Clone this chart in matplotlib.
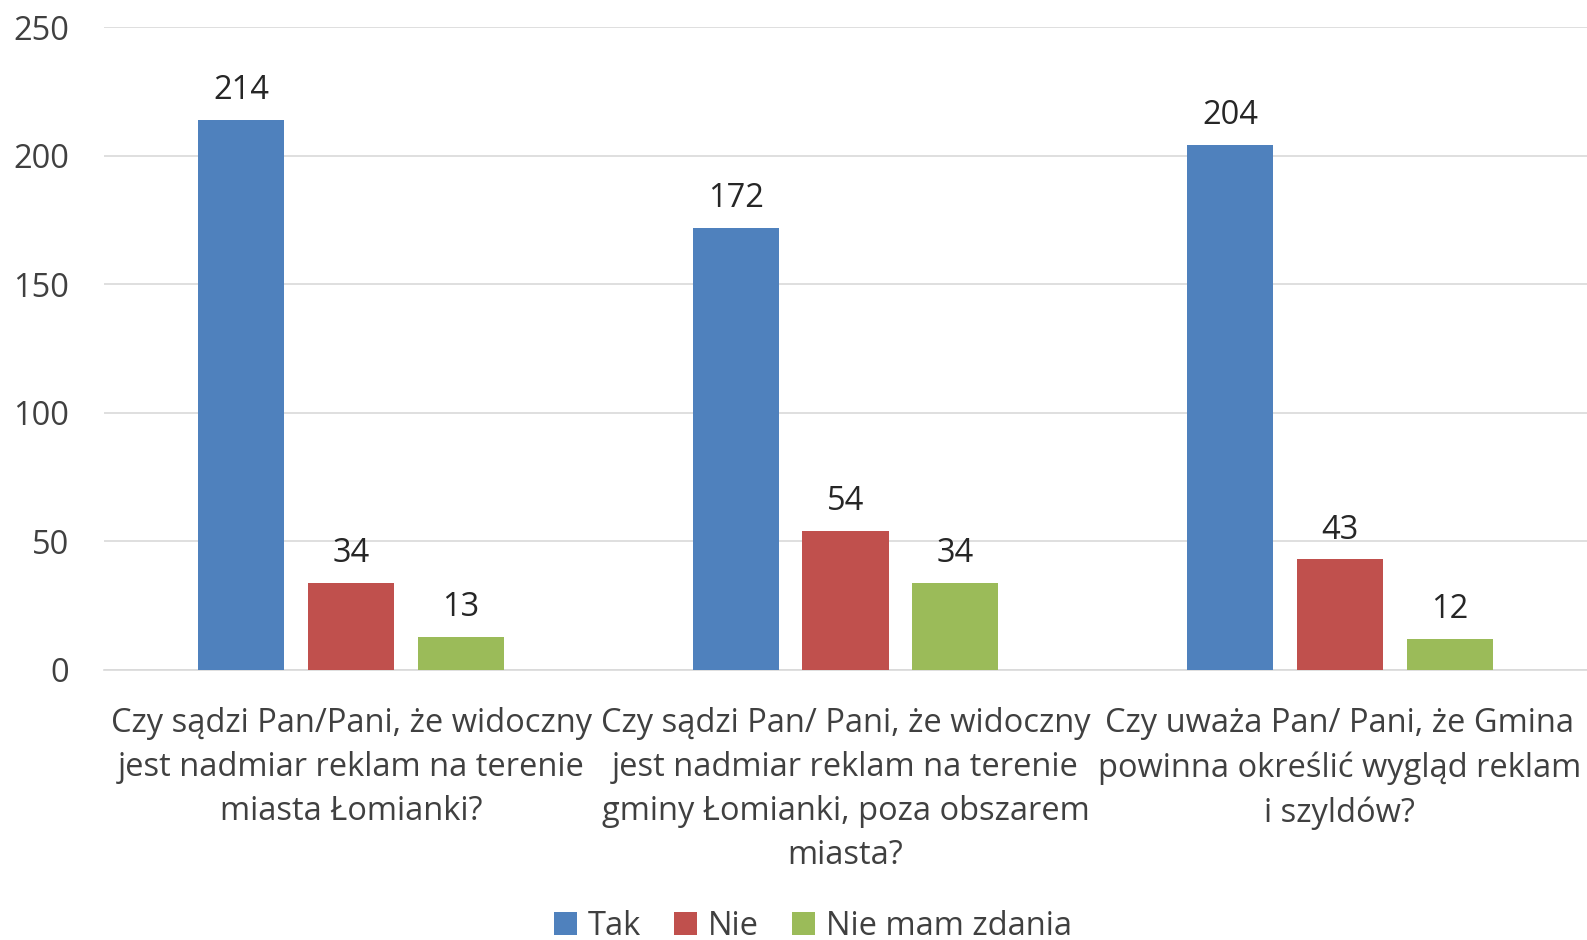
import numpy as np
import matplotlib
matplotlib.use('Agg')
import matplotlib.pyplot as plt

plt.rcParams['font.family'] = ['Open Sans', 'DejaVu Sans']

categories = [
    "Czy sądzi Pan/Pani, że widoczny\njest nadmiar reklam na terenie\nmiasta Łomianki?",
    "Czy sądzi Pan/ Pani, że widoczny\njest nadmiar reklam na terenie\ngminy Łomianki, poza obszarem\nmiasta?",
    "Czy uważa Pan/ Pani, że Gmina\npowinna określić wygląd reklam\ni szyldów?",
]
series_names = ["Tak", "Nie", "Nie mam zdania"]
tak = [214, 172, 204]
nie = [34, 54, 43]
brak = [13, 34, 12]
colors = ["#4F81BD", "#C0504D", "#9BBB59"]

FS = 23.5

fig = plt.figure(figsize=(15.87, 9.40), dpi=100)
ax = fig.add_axes([104 / 1587, 1 - 670 / 940, 1 - 104 / 1587, (670 - 27) / 940])

x = np.arange(len(categories))
w = 0.174
step = 0.222
for i, (vals, name, col) in enumerate(zip([tak, nie, brak], series_names, colors)):
    pos = x + (i - 1) * step
    bars = ax.bar(pos, vals, w, color=col, label=name, zorder=3)
    for b, v in zip(bars, vals):
        ax.text(b.get_x() + b.get_width() / 2, v + 5, str(v),
                ha="center", va="bottom", fontsize=FS, color="#262626")

ax.set_xlim(-0.5, 2.5)
ax.set_ylim(0, 250)
ax.set_yticks(range(0, 251, 50))
ax.grid(axis="y", color="#D9D9D9", lw=1.2, zorder=0)
for s in ["top", "right", "left"]:
    ax.spines[s].set_visible(False)
ax.spines["bottom"].set_color("#D9D9D9")
ax.spines["bottom"].set_linewidth(1.2)
ax.tick_params(axis="both", length=0, labelsize=FS, labelcolor="#404040")
ax.tick_params(axis="y", pad=25)
ax.set_xticks(x)
ax.set_xticklabels(categories, linespacing=1.44)
ax.tick_params(axis="x", pad=27)

ax.legend(loc="lower center", bbox_to_anchor=(0.478, -0.47),
          ncol=3, frameon=False, fontsize=FS, handlelength=0.7, handleheight=0.7,
          handletextpad=0.35, columnspacing=1.0, labelcolor="#404040")

fig.savefig("out.png", dpi=100)
